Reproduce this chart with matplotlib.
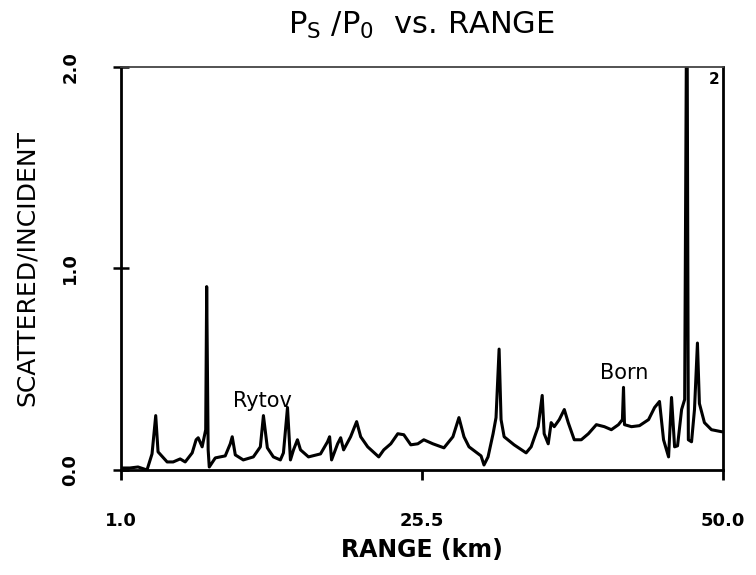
import matplotlib.pyplot as plt

# Range (km) and scattered/incident power ratio
range_km = [1.0, 1.73, 2.39, 2.88, 3.12, 3.53, 3.83, 4.02, 4.76, 5.25, 5.82, 6.23,
            6.80, 7.12, 7.29, 7.61, 7.90, 7.98, 8.10, 8.19, 8.68, 9.08, 9.49, 9.90,
            10.06, 10.31, 10.96, 11.78, 12.35, 12.60, 12.92, 13.41, 13.98, 14.23,
            14.56, 14.80, 15.05, 15.37, 15.62, 16.27, 17.25, 17.82, 17.99, 18.15,
            18.64, 18.89, 19.13, 19.70, 20.19, 20.52, 21.09, 21.99, 22.40, 22.97,
            23.54, 24.03, 24.60, 25.17, 25.66, 26.40, 27.30, 28.03, 28.52, 28.93,
            29.34, 30.32, 30.56, 30.89, 31.30, 31.54, 31.79, 31.95, 32.20, 33.01,
            33.99, 34.40, 34.97, 35.30, 35.46, 35.79, 36.03, 36.28, 36.69, 37.10,
            37.42, 37.91, 38.48, 39.06, 39.71, 40.36, 40.93, 41.51, 41.83, 41.92,
            42.00, 42.57, 43.22, 43.96, 44.45, 44.85, 45.18, 45.59, 45.83, 46.08,
            46.32, 46.65, 46.90, 47.08, 47.20, 47.46, 47.70, 47.94, 48.10, 48.51,
            49.08, 49.90, 50.0]
ratio = [0.01, 0.01, 0.015, 0.005, 0.0, 0.08, 0.27, 0.09, 0.04, 0.04, 0.055, 0.04,
         0.085, 0.15, 0.16, 0.115, 0.2, 0.91, 0.1, 0.015, 0.06, 0.065, 0.07, 0.13,
         0.165, 0.075, 0.05, 0.065, 0.115, 0.27, 0.11, 0.065, 0.05, 0.085,
         0.31, 0.05, 0.10, 0.15, 0.10, 0.065, 0.08, 0.14, 0.165, 0.05,
         0.13, 0.16, 0.10, 0.165, 0.24, 0.165, 0.115, 0.065, 0.10, 0.13,
         0.18, 0.175, 0.125, 0.13, 0.15, 0.13, 0.11, 0.165, 0.26, 0.165,
         0.115, 0.07, 0.025, 0.065, 0.18, 0.26, 0.60, 0.25, 0.165, 0.125,
         0.085, 0.115, 0.215, 0.37, 0.18, 0.13, 0.235, 0.215, 0.25, 0.30,
         0.235, 0.15, 0.15, 0.18, 0.225, 0.215, 0.20, 0.225, 0.25, 0.41,
         0.225, 0.215, 0.22, 0.25, 0.31, 0.34, 0.15, 0.065, 0.36, 0.115,
         0.12, 0.30, 0.35, 2.6, 0.15, 0.14, 0.30, 0.63, 0.33, 0.235,
         0.20, 0.19, 0.19]

x_ticks = [1.0, 25.5, 50.0]
y_ticks = [0.0, 1.0, 2.0]

fig = plt.figure(figsize=(7.56, 5.75), dpi=100)
ax = fig.add_axes([0.160, 0.1826, 0.796, 0.701])

ax.plot(range_km, ratio, color='black', linewidth=2.2, solid_joinstyle='round')

ax.set_xlim(1.0, 50.0)
ax.set_ylim(0.0, 2.0)
ax.set_xticks(x_ticks)
ax.set_xticklabels(['1.0', '25.5', '50.0'], fontsize=13, fontweight='bold')
ax.set_yticks(y_ticks)
ax.set_yticklabels(['0.0', '1.0', '2.0'], fontsize=13, fontweight='bold',
                   rotation=90, va='center')
ax.tick_params(axis='x', direction='out', length=7, width=2, pad=23)
ax.tick_params(axis='y', direction='inout', length=12, width=1.8, pad=24)

for side in ['left', 'bottom', 'right']:
    ax.spines[side].set_linewidth(2)
ax.spines['top'].set_linewidth(1.3)
ax.spines['top'].set_color('#444444')

ax.set_title(r'$\mathregular{P_S\ /P_0}$  vs. RANGE', fontsize=22, pad=24)
ax.set_xlabel('RANGE (km)', fontsize=17, fontweight='bold', labelpad=6)
ax.set_ylabel('SCATTERED/INCIDENT', fontsize=18, labelpad=16)

ax.text(12.5, 0.34, 'Rytov', fontsize=15, ha='center', va='center')
ax.text(42.0, 0.48, 'Born', fontsize=15, ha='center', va='center')
ax.text(49.3, 1.94, '2', fontsize=11, fontweight='bold', ha='center', va='center')

plt.savefig('out.png', dpi=100)
